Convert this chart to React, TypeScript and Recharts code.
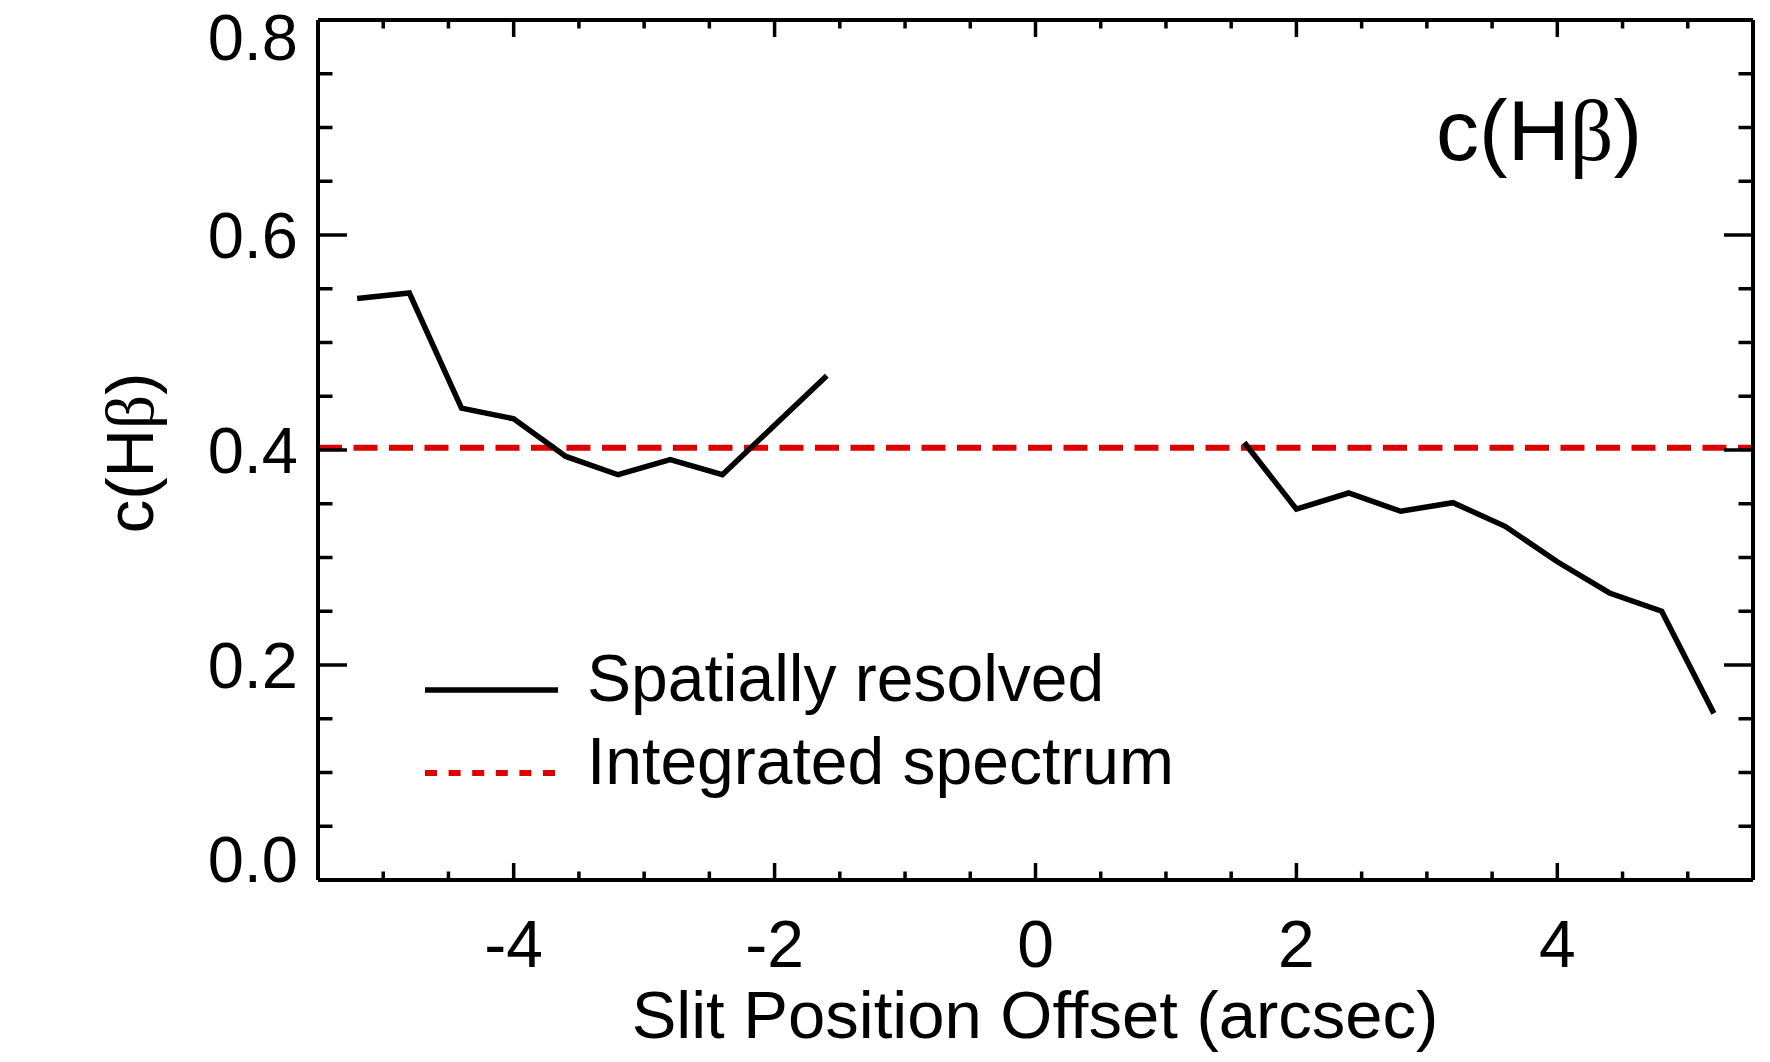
import React from 'react';
import { LineChart, Line, XAxis, YAxis, ReferenceLine, Legend } from 'recharts';

// slit offsets (arcsec) and c(Hbeta)
const leftOffsets = [-5.2, -4.8, -4.4, -4.0, -3.6, -3.2, -2.8, -2.4, -2.0, -1.6];
const leftCHb = [0.541, 0.546, 0.439, 0.429, 0.394, 0.377, 0.391, 0.377, 0.423, 0.469];
const rightOffsets = [1.6, 2.0, 2.4, 2.8, 3.2, 3.6, 4.0, 4.4, 4.8, 5.2];
const rightCHb = [0.407, 0.345, 0.36, 0.343, 0.351, 0.329, 0.296, 0.267, 0.25, 0.155];
const integratedCHb = 0.402;

const xTicks = [-5, -4.5, -4, -3.5, -3, -2.5, -2, -1.5, -1, -0.5, 0, 0.5, 1, 1.5, 2, 2.5, 3, 3.5, 4, 4.5, 5];
const xMajor = [-4, -2, 0, 2, 4];
const yTicks = [0, 0.05, 0.1, 0.15, 0.2, 0.25, 0.3, 0.35, 0.4, 0.45, 0.5, 0.55, 0.6, 0.65, 0.7, 0.75, 0.8];
const yMajor = [0, 0.2, 0.4, 0.6, 0.8];
const legendLabels = ['Spatially resolved', 'Integrated spectrum'];

const leftData = leftOffsets.map((x, i) => ({ x, y: leftCHb[i] }));
const rightData = rightOffsets.map((x, i) => ({ x, y: rightCHb[i] }));

const SANS = '"Liberation Sans", Arial, Helvetica, sans-serif';
const SERIF = '"Liberation Serif", "Times New Roman", serif';

const near = (list: number[], v: number) => list.some((m) => Math.abs(m - v) < 1e-6);

function XTick(props: any) {
  const { x, y, payload, side } = props;
  const v = payload.value;
  const major = near(xMajor, v);
  const len = major ? 17 : 8.5;
  const dir = side === 'bottom' ? -1 : 1;
  return (
    <g>
      <line x1={x} y1={y} x2={x} y2={y + dir * len} stroke="#000" strokeWidth={3.5} />
      {side === 'bottom' && major && (
        <text x={x} y={y + 87} textAnchor="middle" fontFamily={SANS} fontSize={66} fill="#000">
          {String(v)}
        </text>
      )}
    </g>
  );
}

function YTick(props: any) {
  const { x, y, payload, side } = props;
  const v = payload.value;
  const major = near(yMajor, v);
  const len = major ? 29 : 14.5;
  const dir = side === 'left' ? 1 : -1;
  // end labels are nudged inside the frame
  let base = y + 23;
  if (Math.abs(v) < 1e-6) base = y + 2;
  if (Math.abs(v - 0.8) < 1e-6) base = y + 40;
  return (
    <g>
      <line x1={x} y1={y} x2={x + dir * len} y2={y} stroke="#000" strokeWidth={3.5} />
      {side === 'left' && major && (
        <text x={x - 20} y={base} textAnchor="end" fontFamily={SANS} fontSize={65} fill="#000">
          {v.toFixed(1)}
        </text>
      )}
    </g>
  );
}

function LegendBox() {
  return (
    <svg width={900} height={180}>
      <line x1={5} y1={50} x2={138} y2={50} stroke="#000" strokeWidth={5.5} />
      <text x={167} y={61} fontFamily={SANS} fontSize={66} fill="#000">{legendLabels[0]}</text>
      <line x1={5} y1={133} x2={138} y2={133} stroke="#dd0000" strokeWidth={6} strokeDasharray="12 11.6" />
      <text x={167} y={144} fontFamily={SANS} fontSize={66} fill="#000">{legendLabels[1]}</text>
    </svg>
  );
}

const axisLine = { stroke: '#000', strokeWidth: 4 };

export default function App() {
  return (
    <div style={{ position: 'absolute', left: 0, top: 0, background: '#fff' }}>
      <LineChart width={1770} height={1062} margin={{ top: 19, right: 16, bottom: 181, left: 317 }}>
        <XAxis
          xAxisId="bottom"
          orientation="bottom"
          type="number"
          dataKey="x"
          domain={[-5.5, 5.5]}
          allowDataOverflow
          ticks={xTicks}
          interval={0}
          height={1}
          tickSize={0}
          tickMargin={0}
          tickLine={false}
          axisLine={axisLine}
          tick={(p: any) => <XTick {...p} side="bottom" />}
        />
        <XAxis
          xAxisId="top"
          orientation="top"
          type="number"
          dataKey="x"
          domain={[-5.5, 5.5]}
          allowDataOverflow
          ticks={xTicks}
          interval={0}
          height={1}
          tickSize={0}
          tickMargin={0}
          tickLine={false}
          axisLine={axisLine}
          tick={(p: any) => <XTick {...p} side="top" />}
        />
        <YAxis
          yAxisId="left"
          orientation="left"
          type="number"
          domain={[0, 0.8]}
          allowDataOverflow
          ticks={yTicks}
          interval={0}
          width={1}
          tickSize={0}
          tickMargin={0}
          tickLine={false}
          axisLine={axisLine}
          tick={(p: any) => <YTick {...p} side="left" />}
        />
        <YAxis
          yAxisId="right"
          orientation="right"
          type="number"
          domain={[0, 0.8]}
          allowDataOverflow
          ticks={yTicks}
          interval={0}
          width={1}
          tickSize={0}
          tickMargin={0}
          tickLine={false}
          axisLine={axisLine}
          tick={(p: any) => <YTick {...p} side="right" />}
        />
        <ReferenceLine
          xAxisId="bottom"
          yAxisId="left"
          y={integratedCHb}
          stroke="#dd0000"
          strokeWidth={6}
          strokeDasharray="24 11.5"
        />
        <Line
          xAxisId="bottom"
          yAxisId="left"
          data={leftData}
          dataKey="y"
          name="Spatially resolved"
          type="linear"
          stroke="#000"
          strokeWidth={5.5}
          dot={false}
          isAnimationActive={false}
        />
        <Line
          xAxisId="bottom"
          yAxisId="left"
          data={rightData}
          dataKey="y"
          name="Spatially resolved"
          type="linear"
          stroke="#000"
          strokeWidth={5.5}
          dot={false}
          isAnimationActive={false}
        />
        <Legend
          layout="vertical"
          align="center"
          verticalAlign="middle"
          content={() => <LegendBox />}
          wrapperStyle={{ position: 'absolute', left: 420, top: 640, width: 900, height: 180 }}
        />
        <text x={1436} y={160} fontFamily={SANS} fontSize={86} fill="#000">
          c(H<tspan fontFamily={SERIF}>β</tspan>)
        </text>
        <text
          x={153}
          y={453}
          transform="rotate(-90, 153, 453)"
          textAnchor="middle"
          fontFamily={SANS}
          fontSize={67}
          fill="#000"
        >
          c(H<tspan fontFamily={SERIF}>β</tspan>)
        </text>
        <text x={1035} y={1038} textAnchor="middle" fontFamily={SANS} fontSize={67} fill="#000">
          Slit Position Offset (arcsec)
        </text>
      </LineChart>
    </div>
  );
}
